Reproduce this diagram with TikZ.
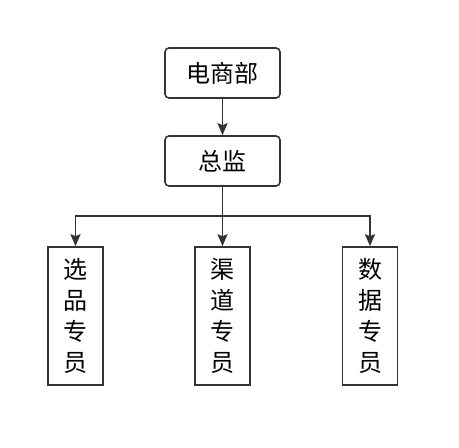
\documentclass[tikz,border=0pt]{standalone}
\usepackage{fontspec}
\newfontfamily\cjk{Noto Sans CJK SC}
\usetikzlibrary{arrows.meta}
\definecolor{ln}{HTML}{333333}
\begin{document}
\begin{tikzpicture}[x=1pt,y=-1pt,
  topbox/.style={draw=ln,line width=1.6pt,rounded corners=4pt,minimum width=115pt,minimum height=50pt,inner sep=0pt,font=\cjk\fontsize{24}{30}\selectfont},
  vbox/.style={draw=ln,line width=1.6pt,minimum width=55pt,minimum height=138pt,inner sep=0pt,font=\cjk\fontsize{24}{31}\selectfont,align=center},
  arr/.style={draw=ln,line width=1.8pt,-{Stealth[length=12pt,width=10pt,inset=2pt]}}]
\useasboundingbox (0,0) rectangle (459,448);
\node[topbox] (dm) at (222.5,73) {电商部};
\node[topbox] (zj) at (222.5,161) {总监};
\node[vbox] (b1) at (75.5,316) {选\\品\\专\\员};
\node[vbox] (b2) at (222.5,316) {渠\\道\\专\\员};
\node[vbox] (b3) at (370,316) {数\\据\\专\\员};
\coordinate (j) at (222.5,216);
\draw[arr] (dm) -- (zj);
\draw[arr] (zj) -- (b2);
\draw[arr] (j) -| (b1);
\draw[arr] (j) -| (b3);
\end{tikzpicture}
\end{document}
